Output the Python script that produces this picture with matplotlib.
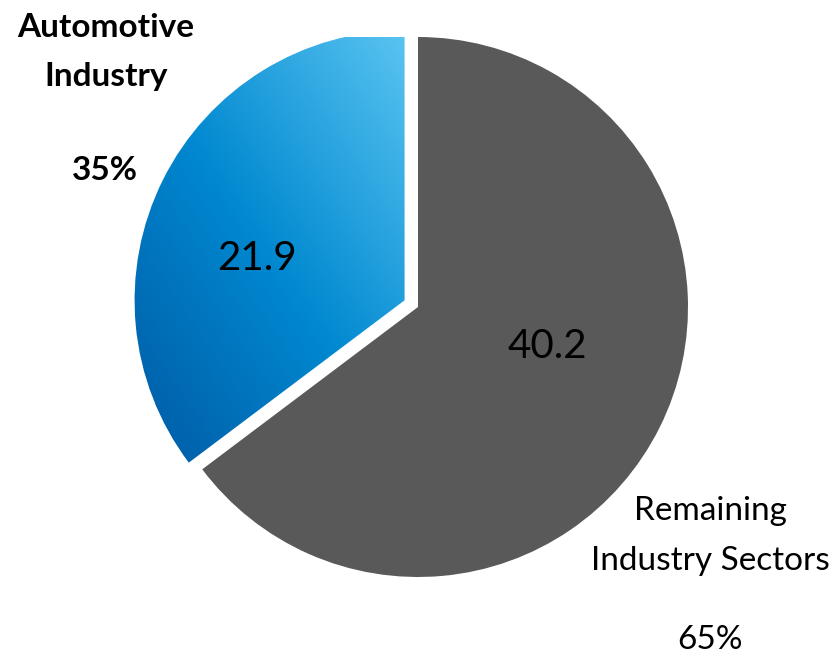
import numpy as np
import matplotlib.pyplot as plt
from matplotlib.colors import LinearSegmentedColormap

# market share of the industry sectors
sectors = ["Automotive\nIndustry", "Remaining\nIndustry Sectors"]
values = [21.9, 40.2]
shares = ["35%", "65%"]

plt.rcParams['font.family'] = ['Lato', 'DejaVu Sans']

W, H = 838, 658
fig = plt.figure(figsize=(W / 100, H / 100), dpi=100)
ax = fig.add_axes([0, 0, 1, 1])

cx, cy, r = 418, H - 307, 270
# explode is given in data units (pixels here)
wedges, _ = ax.pie(values, startangle=90, counterclock=True, center=(cx, cy), radius=r,
                   explode=[15, 0], colors=['none', '#595959'],
                   wedgeprops=dict(linewidth=0), frame=True)
ax.set_xlim(0, W)
ax.set_ylim(0, H)
ax.set_aspect('equal')
ax.axis('off')

# blue gradient for the automotive slice, dark bottom-left to light top-right
blue = LinearSegmentedColormap.from_list('blue', ['#0055A0', '#0088D0', '#5CC6F2'])
gx, gy = np.meshgrid(np.linspace(0, 1, 300), np.linspace(0, 1, 300))
grad = (gx + gy) / 2
x0, x1 = cx - r - 30, cx
y0, y1 = cy - 170, cy + r
im = ax.imshow(grad, cmap=blue, extent=[x0, x1, y0, y1], origin='lower',
               interpolation='bilinear', aspect='auto', zorder=1)
im.set_clip_path(wedges[0])
ax.set_xlim(0, W)
ax.set_ylim(0, H)

# value labels inside the slices
ax.text(257, H - 258, f"{values[0]}", fontsize=29, ha='center', va='center', color='black', zorder=3)
ax.text(547, H - 346, f"{values[1]}", fontsize=29, ha='center', va='center', color='black', zorder=3)

# category labels outside
ax.text(106, H - 52, sectors[0], fontsize=24, fontweight='bold', ha='center', va='center',
        linespacing=1.8)
ax.text(105, H - 170, shares[0], fontsize=24, fontweight='bold', ha='center', va='center')
ax.text(710, H - 536, sectors[1], fontsize=24, ha='center', va='center', linespacing=1.85)
ax.text(710, H - 640, shares[1], fontsize=24, ha='center', va='center')

fig.savefig('out.png', dpi=100)
